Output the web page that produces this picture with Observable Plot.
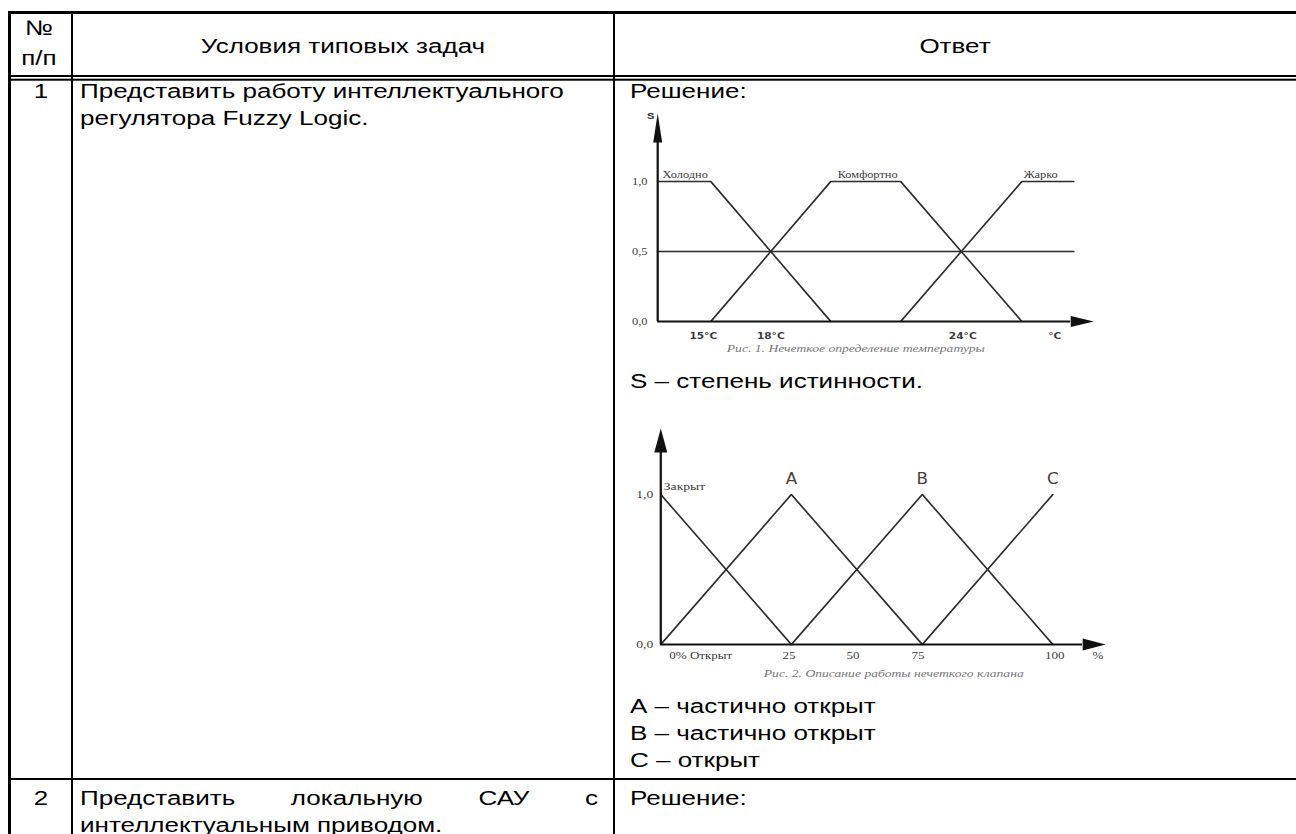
<!DOCTYPE html>
<html><head><meta charset="utf-8">
<script src="https://cdn.jsdelivr.net/npm/d3@7"></script>
<script src="https://cdn.jsdelivr.net/npm/@observablehq/plot@0.6"></script>
<style>
html,body{margin:0;padding:0;background:#fff;width:1296px;height:834px;overflow:hidden;}
#page{position:absolute;left:0;top:0;height:834px;transform-origin:0 0;}
#page svg{position:absolute;overflow:visible;}
</style></head><body><div id="page"></div>
<script>
// ---------- table text ----------
const headerNo = ["№", "п/п"];
const headerTask = "Условия типовых задач";
const headerAnswer = "Ответ";
const rowNumbers = ["1", "2"];
const task1Lines = ["Представить работу интеллектуального", "регулятора Fuzzy Logic."];
const task2Words = ["Представить", "локальную", "САУ", "с"];
const task2Line2 = "интеллектуальным приводом.";
const answer1Top = "Решение:";
const answer1Mid = "S – степень истинности.";
const answer1Bottom = ["А – частично открыт", "В – частично открыт", "С – открыт"];
const answer2Top = "Решение:";

// ---------- chart 1: fuzzy temperature ----------
const tempNames = ["Холодно", "Комфортно", "Жарко"];
const tempT = [[14.23, 16, 20], [16, 20, 22.33, 26.37], [22.33, 26.37, 28.1]];
const tempS = [[1, 1, 0], [0, 1, 1, 0], [0, 1, 1]];
const tempLabelT = [15.15, 21.23, 27.0];
const halfT = [14.23, 28.1];
const halfS = [0.5, 0.5];
const tempTicks = [15.75, 18, 24.4, 27.47];
const tempTickLabels = ["15°C", "18°C", "24°C", "°C"];
const sTicks = [0, 0.5, 1];
const sTickLabels = ["0,0", "0,5", "1,0"];
const tempCaption = "Рис. 1. Нечеткое определение температуры";

// ---------- chart 2: fuzzy valve ----------
const valveNames = ["Закрыт", "A", "B", "C"];
const valveX = [[0, 33.3], [0, 33.3, 66.7], [33.3, 66.7, 100], [66.7, 100]];
const valveY = [[1, 0], [0, 1, 0], [0, 1, 0], [0, 1]];
const valveTicks = [10.2, 32.7, 49, 65.6, 100.5, 111.5];
const valveTickLabels = ["0% Открыт", "25", "50", "75", "100", "%"];
const vTicks = [0, 1];
const vTickLabels = ["0,0", "1,0"];
const valveCaption = "Рис. 2. Описание работы нечеткого клапана";

// ---------- layout ----------
const SX = 1.24;                 // horizontal stretch of the reference
const U = v => v / SX;
const page = document.getElementById("page");
page.style.width = U(1296) + "px";
page.style.transform = `scaleX(${SX})`;

const tbl = d3.create("svg")
  .attr("width", U(1296)).attr("height", 834)
  .style("left", "0px").style("top", "0px")
  .attr("font-family", "'Liberation Sans', Arial, sans-serif")
  .attr("font-size", 21).attr("fill", "#000");
page.appendChild(tbl.node());

const rect = (x, y, w, h) => tbl.append("rect").attr("x", U(x)).attr("y", y)
  .attr("width", U(w)).attr("height", h).attr("fill", "#000");
rect(8, 11, 1300, 3);
rect(8, 11, 3, 823);
rect(71, 11, 2, 823);
rect(613, 11, 2, 823);
rect(8, 75, 1300, 2);
rect(8, 78.7, 1300, 2);
rect(8, 778, 1300, 2);

const txt = (s, x, y, anchor = "start") => tbl.append("text")
  .attr("x", U(x)).attr("y", y).attr("text-anchor", anchor).text(s);

txt(headerNo[0], 39, 35, "middle");
txt(headerNo[1], 39, 65, "middle");
txt(headerTask, 343, 53, "middle");
txt(headerAnswer, 955, 53, "middle");
txt(rowNumbers[0], 41, 98, "middle");
txt(rowNumbers[1], 41, 805, "middle");
task1Lines.forEach((s, i) => txt(s, 80, 98 + 27 * i));
// justified first line of task 2
{
  const els = task2Words.map(w => txt(w, 0, 805));
  const widths = els.map(e => e.node().getComputedTextLength());
  const total = U(598 - 80);
  const gap = (total - d3.sum(widths)) / (els.length - 1);
  let cx = U(80);
  els.forEach((e, i) => { e.attr("x", cx); cx += widths[i] + gap; });
}
txt(task2Line2, 80, 832);
txt(answer1Top, 630, 98);
txt(answer1Mid, 630, 388);
answer1Bottom.forEach((s, i) => txt(s, 630, 713 + 27 * i));
txt(answer2Top, 630, 805);

// ---------- chart 1 ----------
const serif = "'Liberation Serif', 'Times New Roman', serif";
const narrow = "'Liberation Sans Narrow', 'Arial Narrow', 'DejaVu Sans Condensed', 'Liberation Sans', sans-serif";
const lineColor = "#2b2b2b";
const axisColor = "#111";
const labelColor = "#3c3c3c";

const tempData = tempNames.flatMap((name, i) => tempT[i].map((t, j) => ({name, t, s: tempS[i][j]})));
const halfData = halfT.map((t, j) => ({t, s: halfS[j]}));
const tMin = tempT[0][0];
const chart1 = Plot.plot({
  width: U(510), height: 270,
  marginLeft: U(50), marginRight: U(10), marginTop: 11, marginBottom: 49,
  x: {domain: [14, 29], axis: null},
  y: {domain: [0, 1.5], axis: null},
  style: {background: "transparent", overflow: "visible"},
  marks: [
    Plot.line(halfData, {x: "t", y: "s", stroke: lineColor, strokeWidth: 1.4}),
    Plot.line(tempData, {x: "t", y: "s", z: "name", stroke: lineColor, strokeWidth: 1.4}),
    Plot.ruleX([tMin], {y1: 0, y2: 1.279, stroke: axisColor, strokeWidth: 1.8}),
    Plot.ruleY([0], {x1: tMin, x2: 28.0, stroke: axisColor, strokeWidth: 1.8}),
    Plot.vector([0], {x: () => tMin, y: () => 1.279, length: 29, rotate: 0, r: U(4.5), shape: "spike", anchor: "start", fill: axisColor, stroke: "none"}),
    Plot.vector([0], {x: () => 28.0, y: () => 0, length: U(23), rotate: 90, r: 5.5, shape: "spike", anchor: "start", fill: axisColor, stroke: "none"}),
    Plot.text(["S"], {x: () => tMin, y: () => 1.47, dx: -U(7), fontFamily: "'Liberation Sans', sans-serif", fontWeight: "bold", fontSize: 9, fill: "#222"}),
    Plot.text(tempNames, {x: tempLabelT, y: () => 1, dy: -7, fontFamily: serif, fontSize: 10, fill: labelColor}),
    Plot.text(sTickLabels, {x: () => tMin, y: sTicks, dx: -U(18), fontFamily: serif, fontSize: 10, fill: labelColor}),
    Plot.text(tempTickLabels, {x: tempTicks, y: () => 0, dy: 14, fontFamily: narrow, fontWeight: "bold", fontSize: 9.5, fill: labelColor}),
    Plot.text([tempCaption], {frameAnchor: "bottom", dx: -U(20), dy: 31, fontFamily: serif, fontStyle: "italic", fontSize: 11, fill: "#777"})
  ]
});
chart1.style.left = U(600) + "px";
chart1.style.top = "100px";
page.appendChild(chart1);

// ---------- chart 2 ----------
const valveData = valveNames.flatMap((name, i) => valveX[i].map((x, j) => ({name, x, y: valveY[i][j]})));
const peaks = valveNames.map((name, i) => valveX[i][valveY[i].indexOf(1)]);
const chart2 = Plot.plot({
  width: U(520), height: 292,
  marginLeft: U(60), marginRight: U(13), marginTop: 19, marginBottom: 48,
  x: {domain: [0, 114], axis: null},
  y: {domain: [0, 1.5], axis: null},
  style: {background: "transparent", overflow: "visible"},
  marks: [
    Plot.line(valveData, {x: "x", y: "y", z: "name", stroke: lineColor, strokeWidth: 1.4}),
    Plot.ruleX([0], {y1: 0, y2: 1.28, stroke: axisColor, strokeWidth: 1.8}),
    Plot.ruleY([0], {x1: 0, x2: 107.6, stroke: axisColor, strokeWidth: 1.8}),
    Plot.vector([0], {x: () => 0, y: () => 1.28, length: 24, rotate: 0, r: U(6.5), shape: "spike", anchor: "start", fill: axisColor, stroke: "none"}),
    Plot.vector([0], {x: () => 107.6, y: () => 0, length: U(23), rotate: 90, r: 6, shape: "spike", anchor: "start", fill: axisColor, stroke: "none"}),
    Plot.text([valveNames[0]], {x: () => 0, y: () => 1, dx: U(3), dy: -8, textAnchor: "start", fontFamily: serif, fontSize: 11, fill: labelColor}),
    Plot.text(valveNames.slice(1), {x: peaks.slice(1), y: () => 1, dy: -15, fontFamily: narrow, fontSize: 15, fill: "#4a4038"}),
    Plot.text(vTickLabels, {x: () => 0, y: vTicks, dx: -U(16), fontFamily: serif, fontSize: 11, fill: labelColor}),
    Plot.text(valveTickLabels, {x: valveTicks, y: () => 0, dy: 11, fontFamily: serif, fontSize: 10.5, fill: labelColor}),
    Plot.text([valveCaption], {frameAnchor: "bottom", dx: U(9.5), dy: 33, fontFamily: serif, fontStyle: "italic", fontSize: 11, fill: "#777"})
  ]
});
chart2.style.left = U(600) + "px";
chart2.style.top = "400px";
page.appendChild(chart2);
</script></body></html>
